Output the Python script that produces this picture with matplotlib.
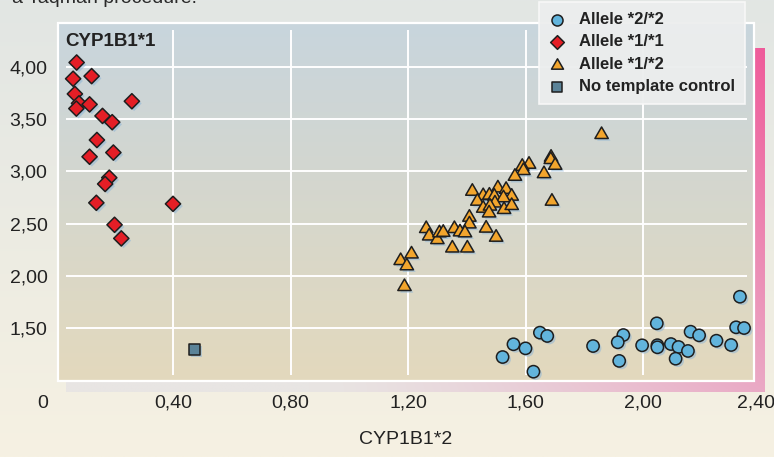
import numpy as np
import matplotlib
matplotlib.use("Agg")
import matplotlib.pyplot as plt
from matplotlib import patheffects as pe
from matplotlib.path import Path
from matplotlib.transforms import blended_transform_factory, offset_copy

plt.rcParams['font.family'] = ['Liberation Sans', 'DejaVu Sans']

# ---------------- data ----------------
a22_x = [2.330, 2.047, 2.317, 2.344, 1.649, 1.674, 1.933, 2.162, 2.191, 1.559,
         1.600, 1.522, 1.627, 1.830, 1.914, 1.919, 1.997, 2.049, 2.049, 2.095,
         2.121, 2.111, 2.153, 2.250, 2.300]
a22_y = [1.803, 1.549, 1.511, 1.504, 1.460, 1.428, 1.437, 1.469, 1.434, 1.349,
         1.310, 1.227, 1.087, 1.332, 1.368, 1.190, 1.339, 1.340, 1.320, 1.351,
         1.323, 1.211, 1.285, 1.383, 1.342]

a11_x = [0.072, 0.060, 0.123, 0.066, 0.260, 0.080, 0.071, 0.116, 0.160, 0.193,
         0.141, 0.116, 0.197, 0.183, 0.169, 0.139, 0.400, 0.201, 0.224]
a11_y = [4.04, 3.885, 3.91, 3.74, 3.67, 3.65, 3.60, 3.64, 3.53, 3.47,
         3.30, 3.14, 3.18, 2.94, 2.88, 2.70, 2.69, 2.49, 2.36]

a12_x = [1.859, 1.687, 1.686, 1.701, 1.612, 1.589, 1.593, 1.564, 1.663, 1.690,
         1.419, 1.506, 1.534, 1.456, 1.477, 1.494, 1.553, 1.525, 1.436, 1.496,
         1.456, 1.479, 1.476, 1.527, 1.553, 1.409, 1.409, 1.466, 1.500,
         1.262, 1.272, 1.300, 1.307, 1.320, 1.358, 1.377, 1.394, 1.351, 1.402,
         1.212, 1.175, 1.196, 1.188]
a12_y = [3.364, 3.147, 3.125, 3.070, 3.080, 3.060, 3.020, 2.965, 2.990, 2.727,
         2.822, 2.854, 2.840, 2.780, 2.785, 2.775, 2.775, 2.760, 2.727, 2.710,
         2.660, 2.680, 2.615, 2.648, 2.686, 2.574, 2.510, 2.470, 2.383,
         2.466, 2.395, 2.360, 2.425, 2.430, 2.466, 2.434, 2.425, 2.280, 2.280,
         2.223, 2.160, 2.110, 1.912]

ntc_x = [0.473]
ntc_y = [1.30]

x_ticks = [0.0, 0.4, 0.8, 1.2, 1.6, 2.0, 2.4]
x_ticklabels = ["0", "0,40", "0,80", "1,20", "1,60", "2,00", "2,40"]
y_ticks = [1.5, 2.0, 2.5, 3.0, 3.5, 4.0]
y_ticklabels = ["1,50", "2,00", "2,50", "3,00", "3,50", "4,00"]

# ---------------- figure ----------------
W, H = 774, 457
fig = plt.figure(figsize=(W / 100, H / 100), dpi=100)

def hex2rgb(h):
    h = h.lstrip('#')
    return np.array([int(h[i:i + 2], 16) / 255 for i in (0, 2, 4)])

# background axes in figure fraction
bg = fig.add_axes([0, 0, 1, 1], zorder=-10)
bg.set_xlim(0, 1)
bg.set_ylim(0, 1)
bg.axis('off')

v = np.linspace(0, 1, 256)[:, None, None]
top_c, bot_c = hex2rgb('#e2e6e4'), hex2rgb('#f6f1e2')
fig_grad = top_c * (1 - v) + bot_c * v
bg.imshow(np.repeat(fig_grad, 2, axis=1), extent=[0, 1, 0, 1], aspect='auto', zorder=0)

# panel geometry (pixels)
pl, pr, pt, pb = 58, 754, 23, 381
ax_rect = [pl / W, 1 - pb / H, (pr - pl) / W, (pb - pt) / H]

# shadow (pink) behind panel
sl, sr, st, sb = 66, 765, 48, 392
nu, nv = 300, 120
uu = np.linspace(0, 1, nu)[None, :, None]
vv = np.linspace(0, 1, nv)[:, None, None]
pink = hex2rgb('#ef5b9a') * (1 - vv) + hex2rgb('#eaa9c5') * vv
gray = hex2rgb('#e8e5e3')
t = np.clip((uu - 0.35) / 0.65, 0, 1) ** 1.3
shadow = gray * (1 - t) + pink * t
bg.imshow(shadow, extent=[sl / W, sr / W, 1 - sb / H, 1 - st / H], aspect='auto', zorder=1)

# panel gradient
ptop, pbot = hex2rgb('#c8d5dd'), hex2rgb('#e3d9bd')
panel = ptop * (1 - vv) + pbot * vv
panel = np.repeat(panel, 2, axis=1)
bg.imshow(panel, extent=[ax_rect[0], ax_rect[0] + ax_rect[2], ax_rect[1], ax_rect[1] + ax_rect[3]],
          aspect='auto', zorder=2)
bg.add_patch(plt.Rectangle((ax_rect[0], ax_rect[1]), ax_rect[2], ax_rect[3],
                           fill=False, edgecolor='white', lw=1.6, zorder=3))

# partially cut-off text at the top (as in the reference)
fig.text(12 / W, 1 - 3 / H, "a Taqman procedure.", fontsize=14, color='#2a2a2a',
         va='baseline', ha='left')

# ---------------- data axes ----------------
ax = fig.add_axes(ax_rect)
ax.set_facecolor('none')
for s in ax.spines.values():
    s.set_visible(False)

x0 = (pl - 55.5) / 293.75
x1 = (pr - 55.5) / 293.75
y1 = 4 + (66.7 - pt) / 104.7
y0 = 4 - (pb - 66.7) / 104.7
ax.set_xlim(x0, x1)
ax.set_ylim(y0, y1)

# grid (inset from panel edges)
gx0 = (66 - 55.5) / 293.75
gx1 = (747 - 55.5) / 293.75
gy1 = 4 + (66.7 - 30) / 104.7
gy0 = 4 - (375 - 66.7) / 104.7
ax.hlines(y_ticks, gx0, gx1, colors='white', lw=1.4, zorder=1)
ax.vlines([xt for xt in x_ticks if x0 < xt < x1], gy0, gy1, colors='white', lw=1.4, zorder=1)

ax.set_yticks(y_ticks)
ax.set_yticklabels(y_ticklabels)
ax.set_xticks([])
ax.tick_params(axis='y', length=0, pad=7.5, labelsize=14, labelcolor='#222222')

trans = blended_transform_factory(ax.transData, fig.transFigure)
for xv, lab in zip(x_ticks, x_ticklabels):
    if xv == x_ticks[0]:
        tr, ha = offset_copy(trans, fig=fig, x=-7, y=0, units='dots'), 'right'
    elif xv == x_ticks[-1]:
        tr, ha = offset_copy(trans, fig=fig, x=-5, y=0, units='dots'), 'center'
    else:
        tr, ha = trans, 'center'
    ax.text(xv, 1 - 403 / H, lab, transform=tr, ha=ha, va='center',
            fontsize=14, color='#222222', clip_on=False)

fig.text(406 / W, 1 - 440 / H, "CYP1B1*2", ha='center', va='center', fontsize=14, color='#222222')
fig.text(65 / W, 1 - 41 / H, "CYP1B1*1", ha='left', va='center', fontsize=13.5,
         fontweight='bold', color='#222222')

shadow_fx = [pe.SimplePatchShadow(offset=(1.6, -1.6), shadow_rgbFace='#8fb6d6', alpha=0.55), pe.Normal()]
edge = '#1e1e1e'
tri = Path([(-1, -0.78), (1, -0.78), (0, 0.95), (-1, -0.78)],
           [Path.MOVETO, Path.LINETO, Path.LINETO, Path.CLOSEPOLY])

h1 = ax.scatter(a22_x, a22_y, s=78, marker='o', facecolor='#62b4dc', edgecolor=edge, lw=1.1,
                zorder=5, label='Allele *2/*2', path_effects=shadow_fx)
h2 = ax.scatter(a11_x, a11_y, s=60, marker='D', facecolor='#e41e26', edgecolor=edge, lw=1.1,
                zorder=5, label='Allele *1/*1', path_effects=shadow_fx)
h3 = ax.scatter(a12_x, a12_y, s=92, marker=tri, facecolor='#f2a52d', edgecolor=edge, lw=1.1,
                zorder=5, label='Allele *1/*2', path_effects=shadow_fx)
h4 = ax.scatter(ntc_x, ntc_y, s=62, marker='s', facecolor='#5b8398', edgecolor=edge, lw=1.1,
                zorder=5, label='No template control', path_effects=shadow_fx)

leg = fig.legend(handles=[h1, h2, h3, h4], loc='upper left',
                 bbox_to_anchor=(539 / W, 1 - 2 / H), borderaxespad=0,
                 prop={'weight': 'bold', 'size': 12}, frameon=True, fancybox=False,
                 borderpad=0.6, handlelength=1.0, handletextpad=0.8, labelspacing=0.44,
                 markerscale=0.9)
leg.get_frame().set_facecolor('#eceeee')
leg.get_frame().set_edgecolor('#f8f8f8')
leg.get_frame().set_linewidth(1.2)
leg.get_frame().set_alpha(0.95)
for txt in leg.get_texts():
    txt.set_color('#222222')
for lh in leg.legend_handles:
    lh.set_path_effects([])

fig.savefig("out.png", dpi=100)
